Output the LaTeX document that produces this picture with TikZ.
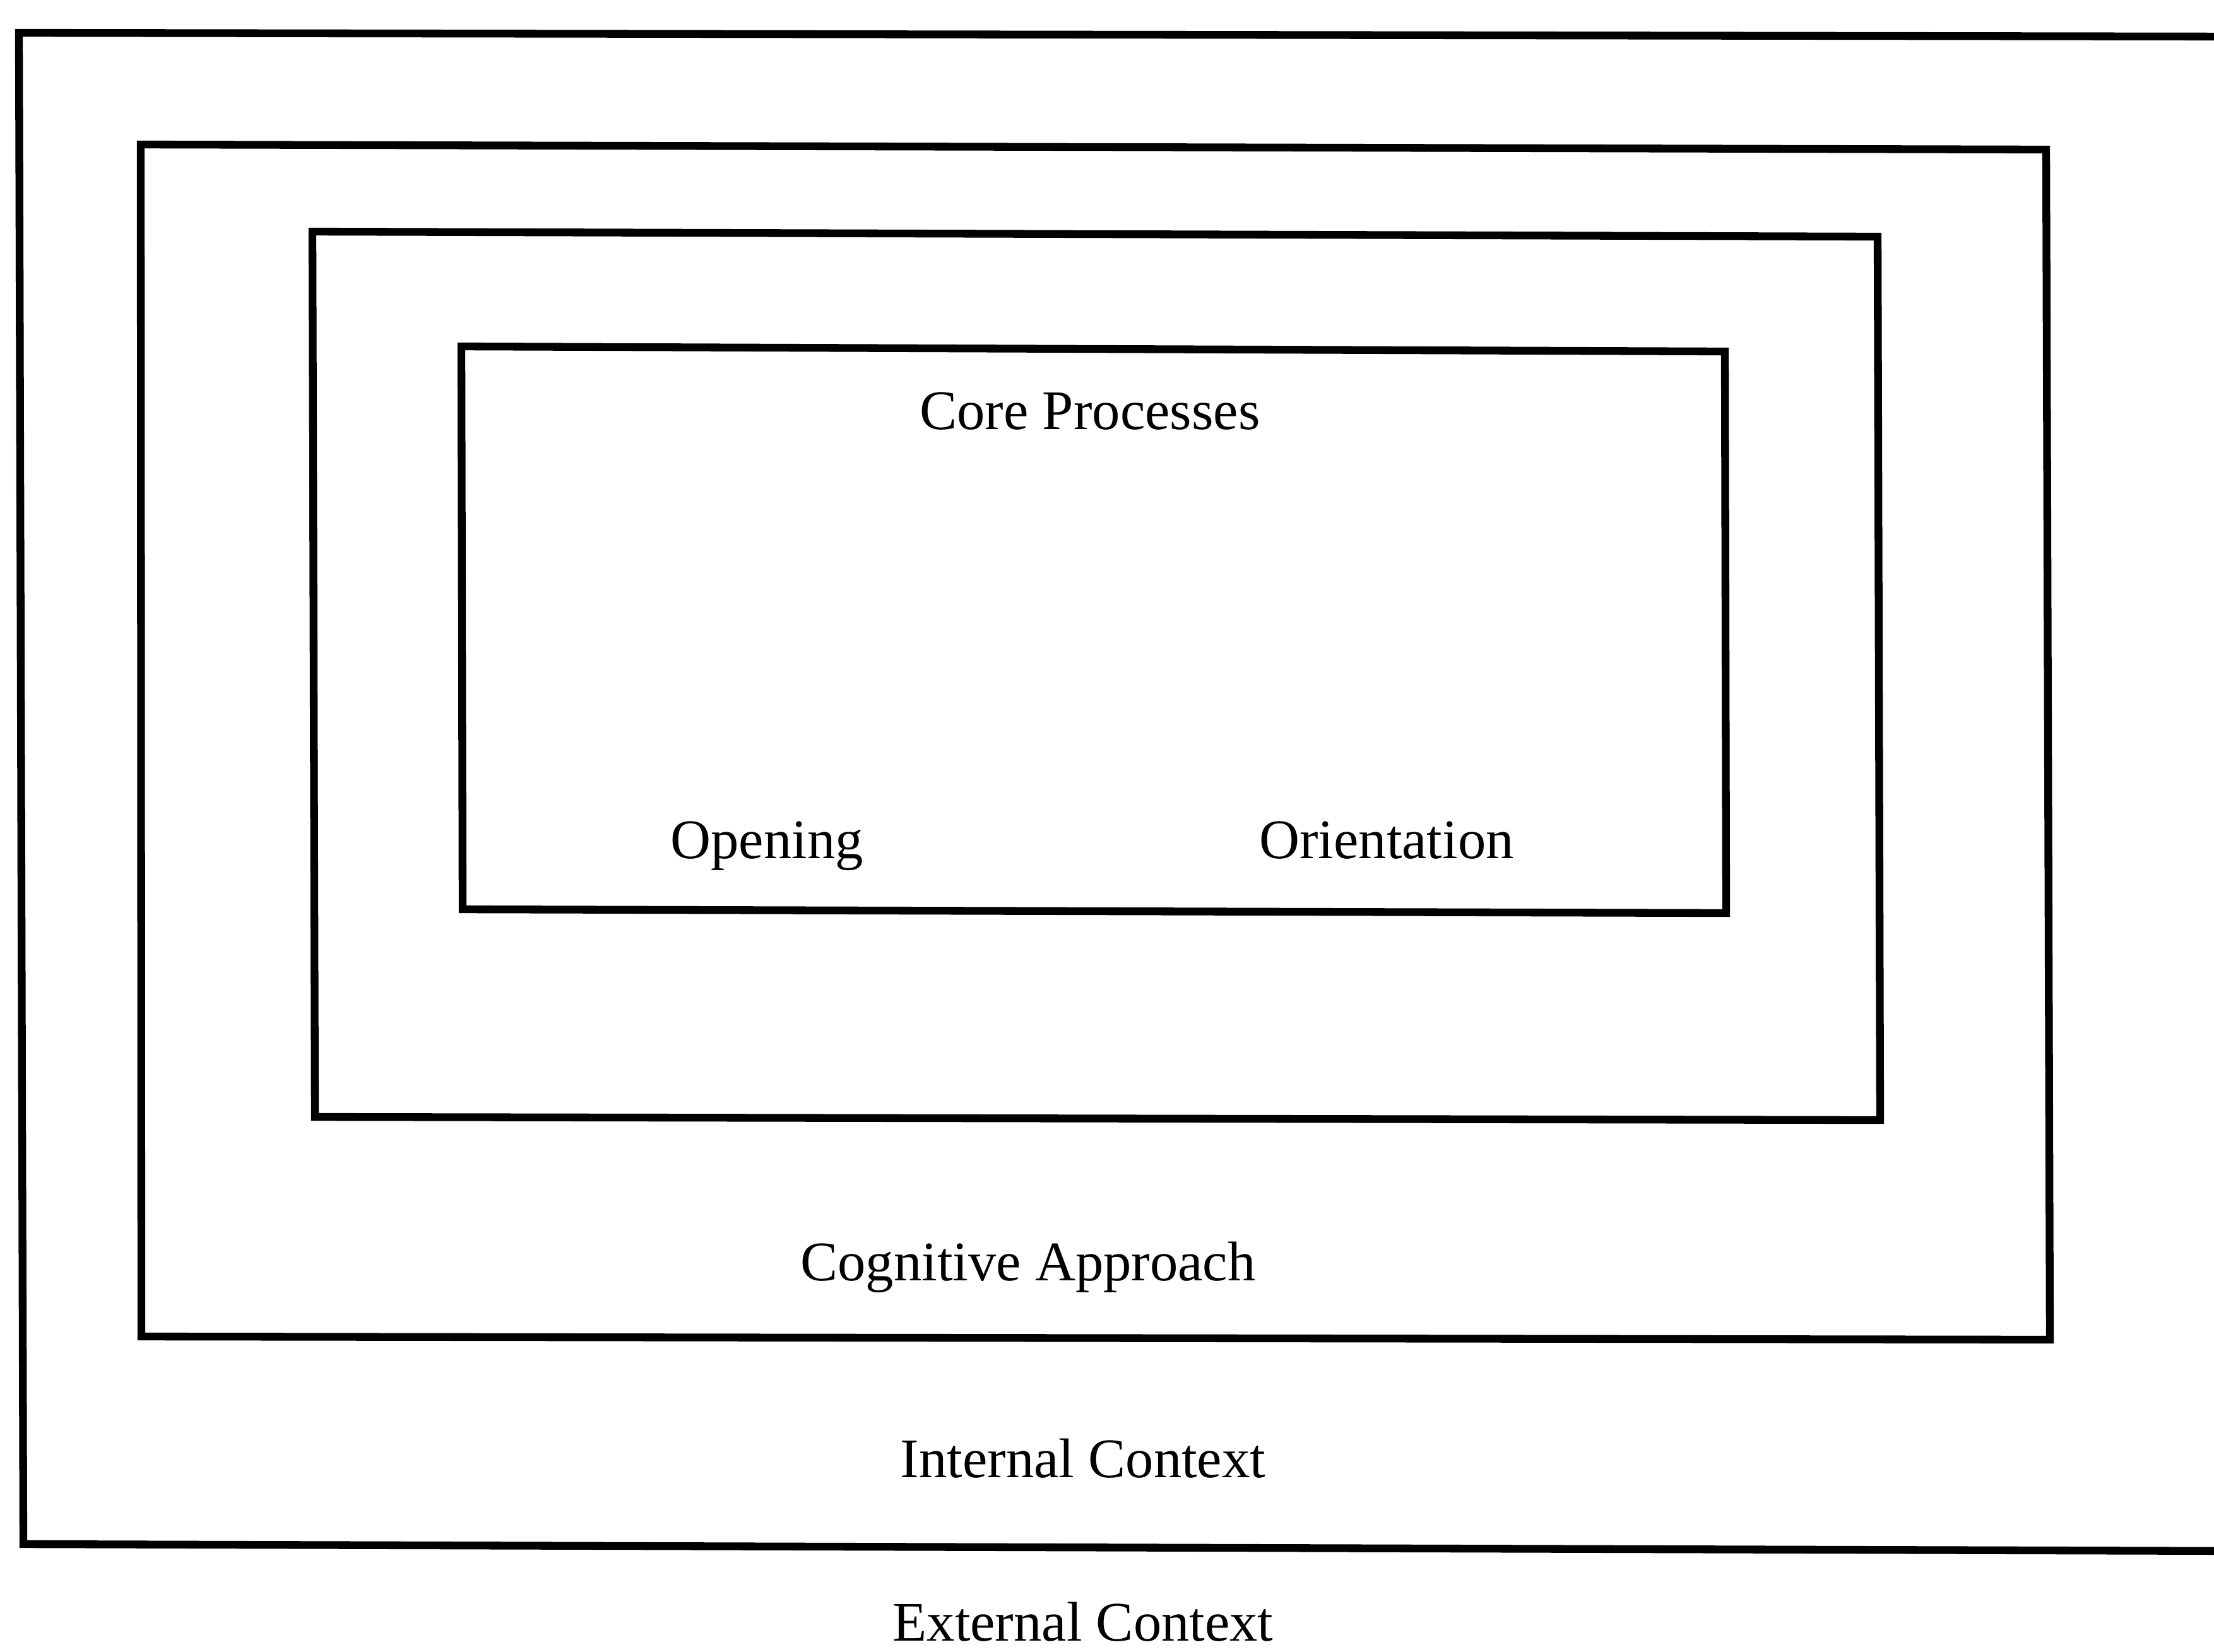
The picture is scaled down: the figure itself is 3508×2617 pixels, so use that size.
\documentclass[tikz,border=0pt]{standalone}
\usepackage{fontspec}
\setmainfont{Liberation Serif}
\begin{document}
\begin{tikzpicture}[x=0.01cm, y=-0.01cm,
  frame/.style={draw=black, line width=3.5pt, line join=miter},
  lbl/.style={font=\fontsize{25.2}{30}\selectfont, anchor=base, inner sep=0pt}]
  \useasboundingbox (0,0) rectangle (3508,2617);
  \clip (0,0) rectangle (3508,2617);
  \fill[white] (0,0) rectangle (3508,2617);

  % external frame (right side runs off the page)
  \draw[frame] (3560,58) -- (30,52) -- (37,2447) -- (3560,2458);
  % internal context
  \draw[frame] (223,229) -- (3242,237) -- (3248,2123) -- (224,2118) -- cycle;
  % cognitive approach
  \draw[frame] (495,367) -- (2975,375) -- (2979,1775) -- (499,1770) -- cycle;
  % core processes
  \draw[frame] (731,549) -- (2733,557) -- (2735,1447) -- (733,1441) -- cycle;

  \node[lbl] (core) at (1727,680) {Core Processes};
  \node[lbl] (opening) at (1215,1360) {Opening};
  \node[lbl] (orient) at (2197,1360) {Orientation};
  \node[lbl] (cognitive) at (1629,2029) {Cognitive Approach};
  \node[lbl] (internal) at (1716,2341) {Internal Context};
  \node[lbl, text depth=0pt] (external) at (1716,2600) {External Context};
\end{tikzpicture}
\end{document}
